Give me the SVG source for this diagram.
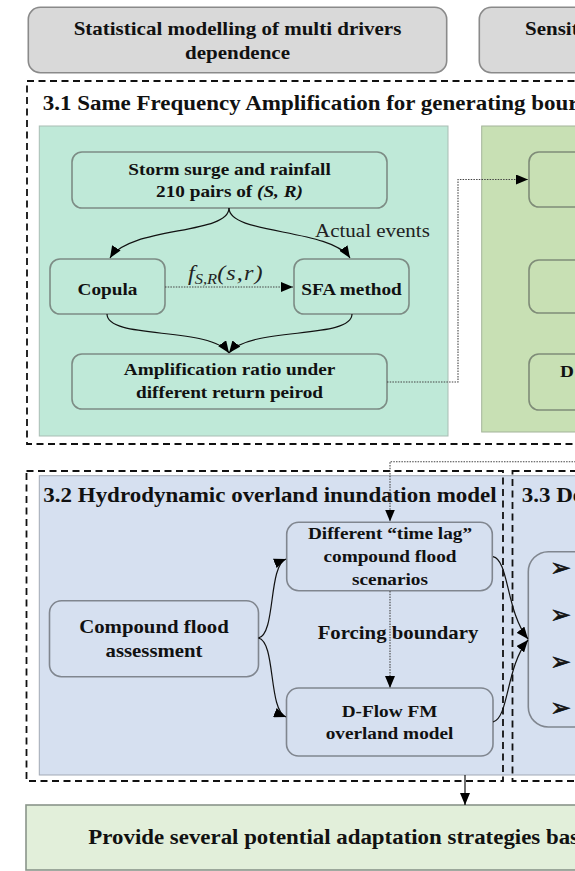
<svg xmlns="http://www.w3.org/2000/svg" width="575" height="871" viewBox="0 0 575 871">
<defs>
<style>
.t{font-family:"Liberation Serif","Times New Roman",serif;font-weight:bold;fill:#111;}
.r{font-family:"Liberation Serif","Times New Roman",serif;fill:#222;}
.n{font-size:17.5px;}
.gray{fill:#d9d9d9;stroke:#8a8a8a;stroke-width:1.6;}
.mn{fill:#bfe9d8;stroke:#7d8c85;stroke-width:1.6;}
.gn{fill:#c8e0b4;stroke:#7f8c78;stroke-width:1.6;}
.bn{fill:#d6e0f0;stroke:#80868f;stroke-width:1.6;}
.dash{fill:none;stroke:#111;stroke-width:1.8;stroke-dasharray:7 4.5;}
.c{fill:none;stroke:#111;stroke-width:1.2;}
.dot{fill:none;stroke:#444;stroke-width:1.1;stroke-dasharray:1.5 1.2;}
.bul{font-family:"DejaVu Sans",sans-serif;font-size:25px;font-weight:bold;fill:#111;stroke:#111;stroke-width:0.6;}
</style>
<marker id="ah" markerWidth="12" markerHeight="10" refX="12" refY="5" orient="auto" markerUnits="userSpaceOnUse">
<path d="M0,0 L12,5 L0,10 z" fill="#000"/>
</marker>
</defs>
<rect width="575" height="871" fill="#fff"/>

<!-- top header boxes -->
<g id="hdr1">
<rect class="gray" x="28.3" y="7.3" width="418.4" height="65.4" rx="12"/>
<text class="t" font-size="19.1" text-anchor="middle" transform="translate(237.5 0) scale(1.1 1)"><tspan x="0" y="35">Statistical modelling of multi drivers</tspan><tspan x="0" y="59.5">dependence</tspan></text>
</g>
<g id="hdr2">
<rect class="gray" x="479.3" y="7.3" width="140" height="65.4" rx="12"/>
<text class="t" font-size="19.1" transform="translate(525 0) scale(1.1 1)" x="0" y="35">Sensit</text>
</g>

<!-- section 3.1 -->
<g id="sec31">
<rect class="dash" x="27" y="81" width="580" height="363"/>
<text class="t" font-size="20.9" transform="translate(42.7 0) scale(1.1 1)" x="0" y="110">3.1 Same Frequency Amplification for generating bour</text>
<rect x="39.3" y="126" width="408.7" height="310" fill="#bfe9d8" stroke="#a9bdb4" stroke-width="1"/>
<rect x="481.7" y="126" width="130" height="306" fill="#c8e0b4" stroke="#a3b39a" stroke-width="1"/>
</g>

<g id="storm">
<rect class="mn" x="72" y="152" width="315" height="56" rx="10"/>
<text class="t n" text-anchor="middle" transform="translate(229.5 0) scale(1.1 1)"><tspan x="0" y="175">Storm surge and rainfall</tspan><tspan x="0" y="197">210 pairs of <tspan font-style="italic">(S, R)</tspan></tspan></text>
</g>
<g id="copula">
<rect class="mn" x="50" y="259" width="115" height="55" rx="10"/>
<text class="t n" text-anchor="middle" transform="translate(107.5 0) scale(1.1 1)" x="0" y="295">Copula</text>
</g>
<g id="sfa">
<rect class="mn" x="294" y="259" width="115" height="55" rx="10"/>
<text class="t n" text-anchor="middle" transform="translate(351.5 0) scale(1.1 1)" x="0" y="295">SFA method</text>
</g>
<g id="ampl">
<rect class="mn" x="72" y="354" width="315" height="55" rx="10"/>
<text class="t n" text-anchor="middle" transform="translate(229.5 0) scale(1.1 1)"><tspan x="0" y="375">Amplification ratio under</tspan><tspan x="0" y="398">different return peirod</tspan></text>
</g>
<g id="right1"><rect class="gn" x="529" y="152" width="90" height="55" rx="10"/></g>
<g id="right2"><rect class="gn" x="529" y="260" width="90" height="53" rx="10"/></g>
<g id="right3">
<rect class="gn" x="529" y="354" width="90" height="56" rx="10"/>
<text class="t n" transform="translate(560 0) scale(1.1 1)" x="0" y="377">D</text>
</g>

<!-- section 3.2 / 3.3 -->
<g id="sec32">
<rect x="39.3" y="475.7" width="580" height="299.3" fill="#d6e0f0" stroke="#a2a9b5" stroke-width="1"/>
<rect class="dash" x="26.5" y="471" width="476.5" height="310"/>
<rect class="dash" x="512.5" y="471" width="100" height="310"/>
<text class="t" font-size="20.9" transform="translate(43.3 0) scale(1.1 1)" x="0" y="501.7">3.2 Hydrodynamic overland inundation model</text>
<text class="t" font-size="20.9" transform="translate(521.7 0) scale(1.1 1)" x="0" y="501.7">3.3 De</text>
</g>
<g id="compound">
<rect class="bn" x="49.5" y="600.7" width="209" height="76" rx="12"/>
<text class="t" font-size="18.9" text-anchor="middle" transform="translate(154 0) scale(1.1 1)"><tspan x="0" y="632.7">Compound flood</tspan><tspan x="0" y="656.7">assessment</tspan></text>
</g>
<g id="timelag">
<rect class="bn" x="286.7" y="522.3" width="205.6" height="68.4" rx="12"/>
<text class="t n" text-anchor="middle" transform="translate(390 0) scale(1.1 1)"><tspan x="0" y="539.3">Different “time lag”</tspan><tspan x="0" y="561.7">compound flood</tspan><tspan x="0" y="585">scenarios</tspan></text>
</g>
<g id="dflow">
<rect class="bn" x="286.5" y="688" width="206.5" height="68" rx="12"/>
<text class="t n" text-anchor="middle" transform="translate(389.5 0) scale(1.1 1)"><tspan x="0" y="717">D-Flow FM</tspan><tspan x="0" y="739">overland model</tspan></text>
</g>
<g id="sec33node">
<rect class="bn" x="528.3" y="551.7" width="100" height="175.3" rx="20"/>
<text class="bul" x="550" y="576">➢</text>
<text class="bul" x="550" y="623">➢</text>
<text class="bul" x="550" y="669.5">➢</text>
<text class="bul" x="550" y="716">➢</text>
</g>
<g id="bottom">
<rect x="26" y="805" width="600" height="65" fill="#e2efda" stroke="#8a958a" stroke-width="1.6"/>
<text class="t" font-size="20.8" transform="translate(88.3 0) scale(1.1 1)" x="0" y="844">Provide several potential adaptation strategies bas</text>
</g>

<!-- connectors -->
<g id="connectors">
<path class="c" d="M229,208 C229,235 130,226 110,258" marker-end="url(#ah)"/>
<path class="c" d="M229,208 C229,235 330,228 350,258" marker-end="url(#ah)"/>
<path class="dot" d="M165,287 H293" marker-end="url(#ah)"/>
<path class="c" d="M107,314 C107,340 210,326 229,353" marker-end="url(#ah)"/>
<path class="c" d="M352,314 C352,340 250,326 229,353" marker-end="url(#ah)"/>
<path class="dot" d="M387,382 H458 V179.5 H528" stroke-dasharray="2.5 1.5" marker-end="url(#ah)"/>
<path class="dot" d="M600,461.7 H390 V521.5" marker-end="url(#ah)"/>
<path class="c" d="M258.5,638 C276,634 268,566 286,559" marker-end="url(#ah)"/>
<path class="c" d="M258.5,638 C276,642 268,710 286,717" marker-end="url(#ah)"/>
<path class="dot" d="M390,591 V688" marker-end="url(#ah)"/>
<path class="c" d="M493,556.7 C509,560 506,612 528,639" marker-end="url(#ah)"/>
<path class="c" d="M493,722 C509,718 506,666 528,640" marker-end="url(#ah)"/>
<path class="c" d="M465,775 V805" marker-end="url(#ah)"/>
</g>

<!-- math / edge labels -->
<g id="labels">
<text class="r" font-size="22" font-style="italic" transform="translate(188 0) scale(1.1 1)" x="0" y="280">f<tspan font-size="15" dy="4">S,R</tspan><tspan dy="-4" letter-spacing="1">(s,r)</tspan></text>
<text class="r" font-size="19.1" transform="translate(315 0) scale(1.1 1)" x="0" y="237">Actual events</text>
<text class="t" font-size="18.9" text-anchor="middle" transform="translate(398 0) scale(1.1 1)" x="0" y="639.3">Forcing boundary</text>
</g>
</svg>
